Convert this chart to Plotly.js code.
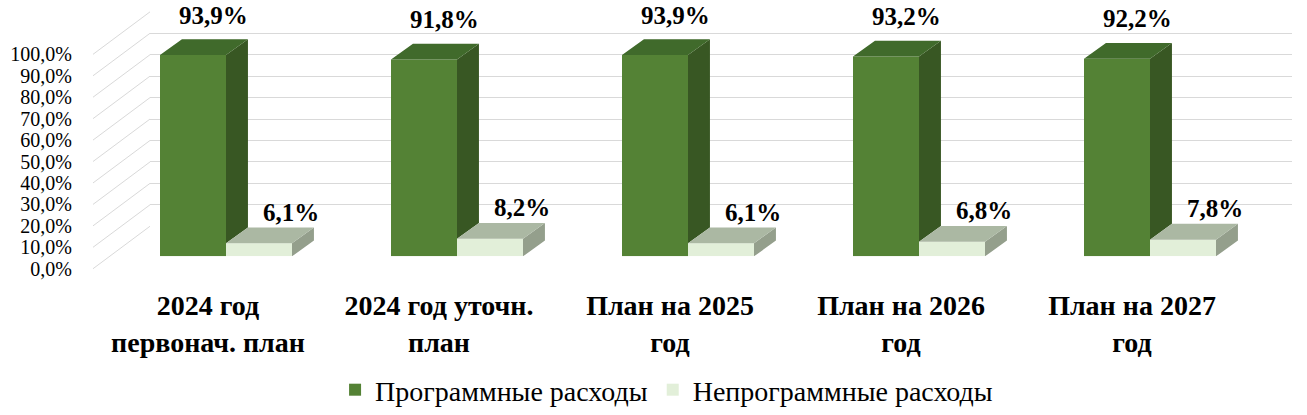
<!DOCTYPE html>
<html>
<head>
<meta charset="utf-8">
<script src="https://cdn.plot.ly/plotly-3.0.1.min.js"></script>
<style>
html,body{margin:0;padding:0;background:#fff}
#chart svg text{font-family:"Liberation Serif" !important}
</style>
</head>
<body>
<div id="chart"></div>
<script>
// ---- data ----
const categories = ["2024 год<br>первонач. план", "2024 год уточн.<br>план", "План на 2025<br>год", "План на 2026<br>год", "План на 2027<br>год"];
const programValues = [93.9, 91.8, 93.9, 93.2, 92.2];
const nonProgramValues = [6.1, 8.2, 6.1, 6.8, 7.8];
const seriesNames = ["Программные расходы", "Непрограммные расходы"];
const yTickVals = [0, 10, 20, 30, 40, 50, 60, 70, 80, 90, 100];
const yTickText = ["0,0%", "10,0%", "20,0%", "30,0%", "40,0%", "50,0%", "60,0%", "70,0%", "80,0%", "90,0%", "100,0%"];

// ---- geometry helpers (styling) ----
const W = 1307, H = 415;
const px = x => x / W;
const py = y => 1 - y / H;
const K = 2.17;            // px per percent unit
const BASE = 259.5;        // baseline of front faces
const BW = 0.2857;         // bar width (category units)
const DX = 0.095;          // depth offset x (category units)
const DY = 7.37;           // depth offset y (value units)
const SERIF = 'Liberation Serif';

const idx = categories.map((_, i) => i);
const fmt = v => v.toFixed(1).replace('.', ',') + '%';

function poly(pointsList) {
  const xs = [], ys = [];
  pointsList.forEach(pts => {
    pts.forEach(p => { xs.push(p[0]); ys.push(p[1]); });
    xs.push(null); ys.push(null);
  });
  return {xs, ys};
}

const greenSide = poly(idx.map(i => {
  const x1 = i, v = programValues[i], lv = nonProgramValues[i];
  return [[x1, lv], [x1 + DX, lv + DY], [x1 + DX, v + DY], [x1, v]];
}));
const greenTop = poly(idx.map(i => {
  const x0 = i - BW, x1 = i, v = programValues[i];
  return [[x0, v], [x1, v], [x1 + DX, v + DY], [x0 + DX, v + DY]];
}));
const lightSide = poly(idx.map(i => {
  const x1 = i + BW, v = nonProgramValues[i];
  return [[x1, 0], [x1 + DX, DY], [x1 + DX, v + DY], [x1, v]];
}));
const lightTop = poly(idx.map(i => {
  const x0 = i, x1 = i + BW, v = nonProgramValues[i];
  return [[x0, v], [x1, v], [x1 + DX, v + DY], [x0 + DX, v + DY]];
}));

function face(p, color) {
  return {type: 'scatter', mode: 'lines', x: p.xs, y: p.ys, xaxis: 'x2', yaxis: 'y2',
    fill: 'toself', fillcolor: color, line: {width: 0, color: color},
    hoverinfo: 'skip', showlegend: false};
}

const traces = [
  {type: 'scatter', x: [], y: [], xaxis: 'x', yaxis: 'y', showlegend: false, hoverinfo: 'skip'},
  {type: 'bar', name: seriesNames[0], x: idx, y: programValues, xaxis: 'x2', yaxis: 'y2',
    width: BW, offset: -BW, marker: {color: '#548235', line: {width: 0}}},
  {type: 'bar', name: seriesNames[1], x: idx, y: nonProgramValues, xaxis: 'x2', yaxis: 'y2',
    width: BW, offset: 0, marker: {color: '#e2efd9', line: {width: 0}}},
  face(greenSide, '#385723'),
  face(greenTop, '#406a2b'),
  face(lightSide, '#949f8c'),
  face(lightTop, '#abb8a3'),
  {type: 'scatter', x: [], y: [], xaxis: 'x2', yaxis: 'y3', showlegend: false, hoverinfo: 'skip'}
];

const annotations = [];
idx.forEach(i => {
  annotations.push({x: i - BW / 2, y: programValues[i] + DY, xref: 'x2', yref: 'y2',
    text: '<b>' + fmt(programValues[i]) + '</b>', showarrow: false,
    xanchor: 'center', yanchor: 'middle', xshift: 20, yshift: 24,
    font: {family: SERIF, size: 25, color: '#000'}});
  annotations.push({x: i + BW / 2, y: nonProgramValues[i] + DY, xref: 'x2', yref: 'y2',
    text: '<b>' + fmt(nonProgramValues[i]) + '</b>', showarrow: false,
    xanchor: 'center', yanchor: 'middle', xshift: 32, yshift: 15,
    font: {family: SERIF, size: 25, color: '#000'}});
});

const shapes = yTickVals.map(v => ({
  type: 'line', xref: 'paper', yref: 'paper', layer: 'below',
  x0: px(93), y0: py(272 - v * K), x1: px(150), y1: py(229 - v * K),
  line: {color: '#d9d9d9', width: 1}
}));

const layout = {
  width: W, height: H,
  margin: {l: 0, r: 0, t: 0, b: 0},
  paper_bgcolor: '#fff', plot_bgcolor: 'rgba(0,0,0,0)',
  font: {family: SERIF, color: '#000'},
  barmode: 'overlay',
  showlegend: true,
  legend: {orientation: 'h', x: 0.51, xanchor: 'center', y: py(395), yanchor: 'middle',
    font: {family: SERIF, size: 28, color: '#000'}, itemwidth: 30, traceorder: 'normal'},
  xaxis: {domain: [px(150), px(1292)], range: [0, 1], showgrid: false, zeroline: false,
    showticklabels: false, showline: false, fixedrange: true},
  yaxis: {domain: [py(229), py(12)], range: [0, 100], dtick: 10, showgrid: true,
    gridcolor: '#d9d9d9', gridwidth: 1, zeroline: false, showticklabels: false,
    showline: false, anchor: 'x', fixedrange: true},
  xaxis2: {domain: [px(110.5), px(1265.5)], range: [-0.5, 4.5], anchor: 'y2',
    tickvals: idx, ticktext: categories, showgrid: false, zeroline: false, showline: false,
    ticks: '', ticklabelstandoff: 30, ticklabelshift: -18,
    tickfont: {family: SERIF, size: 28, color: '#000', weight: 'bold'}, fixedrange: true},
  yaxis2: {domain: [py(BASE), py(BASE - 110 * K)], range: [0, 110], anchor: 'x2',
    showgrid: false, zeroline: false, showticklabels: false, showline: false, fixedrange: true},
  yaxis3: {domain: [py(272), py(55)], range: [0, 100], anchor: 'free', position: px(72),
    side: 'left', tickvals: yTickVals, ticktext: yTickText, showgrid: false, zeroline: false,
    showline: false, ticks: '', tickfont: {family: SERIF, size: 20, color: '#000'}, fixedrange: true},
  annotations: annotations,
  shapes: shapes
};

Plotly.newPlot('chart', traces, layout, {displayModeBar: false, staticPlot: true});
</script>
</body>
</html>
